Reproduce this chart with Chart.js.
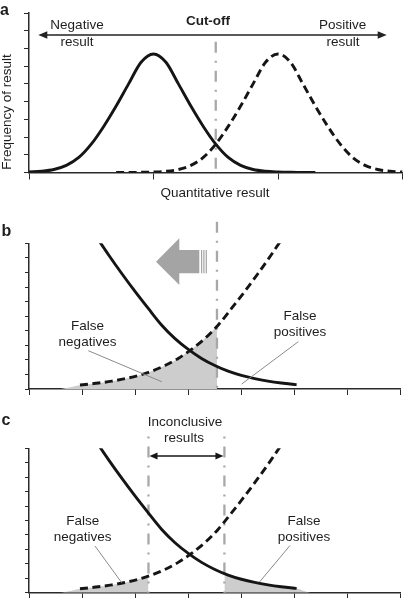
<!DOCTYPE html>
<html>
<head>
<meta charset="utf-8">
<script src="https://cdn.jsdelivr.net/npm/chart.js@4.4.1/dist/chart.umd.min.js"></script>
<style>
  html, body { margin: 0; padding: 0; background: #fff; }
  #page { position: relative; width: 405px; height: 598px; overflow: hidden;
          font-family: "Liberation Sans", Arial, sans-serif; color: #1e1e1e; }
  #page canvas { position: absolute; left: 0; }
  .lbl { position: absolute; font-size: 13.5px; line-height: 1; white-space: nowrap;
         transform: translate(-50%, -50%); }
  .bold { font-weight: bold; }
  .panel { position: absolute; font-weight: bold; font-size: 16px; line-height: 1; }
</style>
</head>
<body>
<div id="page">
  <canvas id="chartA" width="405" height="200" style="top:0;width:405px;height:200px"></canvas>
  <canvas id="chartB" width="405" height="200" style="top:200px;width:405px;height:200px"></canvas>
  <canvas id="chartC" width="405" height="198" style="top:400px;width:405px;height:198px"></canvas>

  <!-- パネルa -->
  <div class="panel" style="left:0;top:1.5px">a</div>
  <div class="lbl bold" style="left:208px;top:20.7px">Cut-off</div>
  <div class="lbl" style="left:77px;top:25.3px">Negative</div>
  <div class="lbl" style="left:77px;top:42px">result</div>
  <div class="lbl" style="left:342.7px;top:25.3px">Positive</div>
  <div class="lbl" style="left:343px;top:42px">result</div>
  <div class="lbl" style="left:7px;top:112px;transform:translate(-50%,-50%) rotate(-90deg)">Frequency of result</div>
  <div class="lbl" style="left:215px;top:193px">Quantitative result</div>

  <!-- パネルb -->
  <div class="panel" style="left:1.5px;top:222.5px">b</div>
  <div class="lbl" style="left:87.5px;top:325.5px">False</div>
  <div class="lbl" style="left:87.5px;top:342px">negatives</div>
  <div class="lbl" style="left:300px;top:315.5px">False</div>
  <div class="lbl" style="left:300px;top:332px">positives</div>

  <!-- パネルc -->
  <div class="panel" style="left:1.5px;top:411.5px">c</div>
  <div class="lbl" style="left:185px;top:421.7px">Inconclusive</div>
  <div class="lbl" style="left:184px;top:438px">results</div>
  <div class="lbl" style="left:82.7px;top:520.7px">False</div>
  <div class="lbl" style="left:82.7px;top:537px">negatives</div>
  <div class="lbl" style="left:304px;top:520.7px">False</div>
  <div class="lbl" style="left:304px;top:537px">positives</div>
</div>

<script>
// ===== パネルa：陰性・陽性の分布（山2つ） =====
const aNegX = [0, 0.1, 0.2, 0.3, 0.4, 0.5, 0.6, 0.7, 0.8, 0.9, 1.0, 1.1, 1.2, 1.3, 1.4, 1.5, 1.6, 1.7, 1.8, 1.9, 2.0, 2.1, 2.2, 2.3];
const aNegY = [0.03, 0.07, 0.17, 0.4, 0.85, 1.6, 2.6, 3.75, 5.0, 6.22, 6.69, 6.22, 5.0, 3.75, 2.6, 1.6, 0.85, 0.4, 0.17, 0.07, 0.03, 0.01, 0, 0];
const aPosX = [0.7, 0.8, 0.9, 1.0, 1.1, 1.2, 1.3, 1.4, 1.5, 1.6, 1.7, 1.8, 1.9, 2.0, 2.1, 2.2, 2.3, 2.4, 2.5, 2.6, 2.7, 2.8, 2.9, 3.0];
const aPosY = [0, 0, 0.01, 0.03, 0.07, 0.17, 0.4, 0.85, 1.6, 2.6, 3.75, 5.0, 6.22, 6.69, 6.22, 5.0, 3.75, 2.6, 1.6, 0.85, 0.4, 0.17, 0.07, 0.03];
const aCutoffs = [1.5];

// ===== パネルb・c：拡大した裾野 =====
const bcNegX = [1.25, 1.5, 1.75, 2.0, 2.25, 2.5, 2.75, 3.0, 3.25, 3.5, 3.75, 4.0, 4.25, 4.5, 4.75, 5.0, 5.04];
const bcNegY = [10.55, 9.2, 7.91, 6.68, 5.51, 4.38, 3.46, 2.72, 2.1, 1.61, 1.22, 0.93, 0.71, 0.54, 0.41, 0.31, 0.3];
const bcPosX = [0.96, 1.06, 1.31, 1.56, 1.81, 2.06, 2.31, 2.56, 2.81, 3.06, 3.31, 3.56, 3.81, 4.06, 4.31, 4.56, 4.81];
const bcPosY = [0.27, 0.31, 0.41, 0.54, 0.71, 0.93, 1.22, 1.61, 2.1, 2.72, 3.46, 4.38, 5.51, 6.68, 7.91, 9.2, 10.55];

// 偽陰性・偽陽性の塗りつぶし範囲
const bFalseNegX = [0.6, 0.8, 0.96, 1.06, 1.31, 1.56, 1.81, 2.06, 2.31, 2.56, 2.81, 3.06, 3.31, 3.54];
const bFalseNegY = [0, 0.13, 0.27, 0.31, 0.41, 0.54, 0.71, 0.93, 1.22, 1.61, 2.1, 2.72, 3.46, 4.3];
const bCutoffs = [3.54];

const cFalseNegX = [0.6, 0.8, 0.96, 1.06, 1.31, 1.56, 1.81, 2.06, 2.25];
const cFalseNegY = [0, 0.13, 0.27, 0.31, 0.41, 0.54, 0.71, 0.93, 1.15];
const cFalsePosX = [3.68, 3.75, 4.0, 4.25, 4.5, 4.75, 5.0, 5.04, 5.15, 5.3];
const cFalsePosY = [1.33, 1.22, 0.93, 0.71, 0.54, 0.41, 0.31, 0.3, 0.16, 0];
const cCutoffs = [2.25, 3.68];

const INK = '#151515';
const AXIS = '#2a2a2a';
const CUT_GRAY = '#a8a8a8';
const FILL_GRAY = '#cdcdcd';

function pts(xs, ys) {
    return xs.map((x, i) => ({ x: x, y: ys[i] }));
}

function curve(xs, ys, dashed) {
    return {
        data: pts(xs, ys),
        borderColor: INK,
        borderWidth: 2.9,
        borderDash: dashed ? [8, 4.5] : [],
        pointRadius: 0,
        fill: false,
        cubicInterpolationMode: 'monotone',
        order: 0
    };
}

function shade(xs, ys) {
    return {
        data: pts(xs, ys),
        borderWidth: 0,
        borderColor: 'rgba(0,0,0,0)',
        backgroundColor: FILL_GRAY,
        pointRadius: 0,
        fill: 'origin',
        cubicInterpolationMode: 'monotone',
        order: 1,
        isFill: true
    };
}

function arrowHead(ctx, tipX, tipY, dir, len, half) {
    ctx.beginPath();
    ctx.moveTo(tipX, tipY);
    ctx.lineTo(tipX - dir * len, tipY - half);
    ctx.lineTo(tipX - dir * len, tipY + half);
    ctx.closePath();
    ctx.fill();
}

function line(ctx, x1, y1, x2, y2) {
    ctx.beginPath();
    ctx.moveTo(x1, y1);
    ctx.lineTo(x2, y2);
    ctx.stroke();
}

// カットオフの一点鎖線（塗りの上・曲線の下に描く）
function drawCutoffs(chart, values, top, dashOffset) {
    const ctx = chart.ctx;
    const xs = chart.scales.x, ys = chart.scales.y;
    ctx.save();
    ctx.strokeStyle = CUT_GRAY;
    ctx.lineWidth = 2.3;
    ctx.setLineDash([11, 8, 2, 8]);
    ctx.lineDashOffset = dashOffset;
    values.forEach(v => {
        const px = xs.getPixelForValue(v);
        line(ctx, px, top, px, ys.bottom);
    });
    ctx.restore();
}

function decor(id, cutoffs, cutTop, dashOffset, extra) {
    return {
        id: id,
        beforeDatasetsDraw(chart) {
            chart.$fillsDone = 0;
            if (!chart.data.datasets.some(d => d.isFill)) drawCutoffs(chart, cutoffs, cutTop, dashOffset);
        },
        afterDatasetDraw(chart, args) {
            const ds = chart.data.datasets[args.index];
            if (!ds.isFill) return;
            chart.$fillsDone++;
            if (chart.$fillsDone === chart.data.datasets.filter(d => d.isFill).length) {
                drawCutoffs(chart, cutoffs, cutTop, dashOffset);
            }
        },
        afterDraw(chart) {
            if (extra) {
                chart.ctx.save();
                extra(chart.ctx, chart);
                chart.ctx.restore();
            }
        }
    };
}

function makeChart(canvasId, datasets, p) {
    const tickGrid = len => ({
        display: true, drawOnChartArea: false, drawTicks: true,
        tickLength: len, color: AXIS, lineWidth: 1
    });
    return new Chart(document.getElementById(canvasId), {
        type: 'line',
        data: { datasets: datasets },
        options: {
            responsive: false,
            animation: false,
            events: [],
            layout: { padding: { top: p.top, right: p.right, left: 0, bottom: 0 } },
            plugins: { legend: { display: false }, tooltip: { enabled: false } },
            scales: {
                x: {
                    type: 'linear', min: 0, max: p.xMax,
                    ticks: { display: false, stepSize: 1 },
                    grid: tickGrid(p.xTick),
                    border: { display: true, color: AXIS, width: 1.5 },
                    afterFit: s => { s.height = p.xH; }
                },
                y: {
                    type: 'linear', min: 0, max: p.yMax,
                    ticks: { display: false, stepSize: 1 },
                    grid: tickGrid(p.yTick),
                    border: { display: true, color: AXIS, width: 1.5 },
                    afterFit: s => { s.width = 29; }
                }
            }
        },
        plugins: [p.plugin]
    });
}

// --- パネルa ---
makeChart('chartA', [
    curve(aNegX, aNegY, false),
    curve(aPosX, aPosY, true)
], {
    top: 13, right: 2.5, xMax: 3, yMax: 9, xH: 27.5, xTick: 7, yTick: 5,
    plugin: decor('decorA', aCutoffs, 41.7, 0, ctx => {
        // 両向き矢印（陰性 ← → 陽性）
        ctx.strokeStyle = '#222';
        ctx.fillStyle = '#222';
        ctx.lineWidth = 1.3;
        line(ctx, 44, 35, 381, 35);
        arrowHead(ctx, 38.3, 35, -1, 9, 3.8);
        arrowHead(ctx, 386.7, 35, 1, 9, 3.8);
    })
});

// --- パネルb ---
makeChart('chartB', [
    curve(bcNegX, bcNegY, false),
    curve(bcPosX, bcPosY, true),
    shade(bFalseNegX, bFalseNegY)
], {
    top: 43.3, right: 4.3, xMax: 7, yMax: 10, xH: 11, xTick: 6, yTick: 4,
    plugin: decor('decorB', bCutoffs, 21.7, 0, ctx => {
        // カットオフを左へ動かす灰色の矢印
        ctx.fillStyle = '#a4a4a4';
        ctx.beginPath();
        ctx.moveTo(156, 61.7);
        ctx.lineTo(179.3, 38.3);
        ctx.lineTo(179.3, 50);
        ctx.lineTo(199.3, 50);
        ctx.lineTo(199.3, 73.3);
        ctx.lineTo(179.3, 73.3);
        ctx.lineTo(179.3, 85);
        ctx.closePath();
        ctx.fill();
        [201, 203.3, 205.7].forEach(bx => ctx.fillRect(bx, 50, 1.2, 23.3));
        // 引き出し線
        ctx.strokeStyle = '#8a8a8a';
        ctx.lineWidth = 1;
        line(ctx, 88.3, 150.7, 161.7, 181.7);
        line(ctx, 298.3, 141.7, 241.7, 184);
    })
});

// --- パネルc ---
makeChart('chartC', [
    curve(bcNegX, bcNegY, false),
    curve(bcPosX, bcPosY, true),
    shade(cFalseNegX, cFalseNegY),
    shade(cFalsePosX, cFalsePosY)
], {
    top: 48.3, right: 4.3, xMax: 7, yMax: 10, xH: 5.3, xTick: 6, yTick: 4,
    plugin: decor('decorC', cCutoffs, 36.5, 19, (ctx, chart) => {
        const xs = chart.scales.x;
        const l = xs.getPixelForValue(cCutoffs[0]);
        const r = xs.getPixelForValue(cCutoffs[1]);
        // 判定保留ゾーンの両向き矢印
        ctx.strokeStyle = INK;
        ctx.fillStyle = INK;
        ctx.lineWidth = 1.4;
        line(ctx, l + 6, 56, r - 6, 56);
        arrowHead(ctx, l + 1, 56, -1, 8, 3.5);
        arrowHead(ctx, r - 1, 56, 1, 8, 3.5);
        // 引き出し線
        ctx.strokeStyle = '#8a8a8a';
        ctx.lineWidth = 1;
        line(ctx, 95, 146, 121.7, 182.7);
        line(ctx, 290, 145.5, 259.5, 182);
    })
});
</script>
</body>
</html>
